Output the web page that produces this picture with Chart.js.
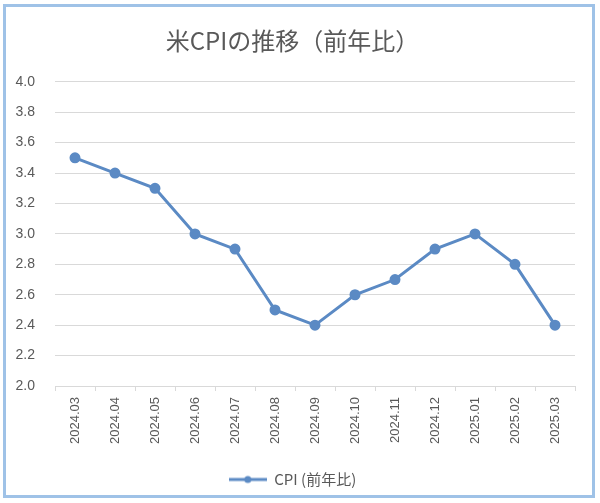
<!DOCTYPE html>
<html><head><meta charset="utf-8">
<script src="https://cdn.jsdelivr.net/npm/chart.js@4/dist/chart.umd.min.js"></script>
<style>html,body{margin:0;padding:0;background:#fff;}#wrap{width:600px;height:503px;position:relative;}</style>
</head><body><div id="wrap"><canvas id="c" width="600" height="503"></canvas></div>
<script>
const categories = ["2024.03","2024.04","2024.05","2024.06","2024.07","2024.08","2024.09","2024.10","2024.11","2024.12","2025.01","2025.02","2025.03"];
const cpiValues = [3.5,3.4,3.3,3.0,2.9,2.5,2.4,2.6,2.7,2.9,3.0,2.8,2.4];
const seriesName = "CPI (前年比)";
const titleText = "米CPIの推移（前年比）";

const lineColor = "#5b8ac4";
const textColor = "#595959";
const gridColor = "#d9d9d9";

// legend marker: line with a dot
const mk = document.createElement('canvas');
mk.width = 38; mk.height = 10;
(function(){const g=mk.getContext('2d');g.strokeStyle=lineColor;g.lineWidth=3;g.beginPath();g.moveTo(0,5);g.lineTo(38,5);g.stroke();g.fillStyle=lineColor;g.beginPath();g.arc(19,5,3.5,0,Math.PI*2);g.fill();})();

const borderPlugin = {
  id:'frame',
  beforeDraw(chart){
    const ctx=chart.ctx;ctx.save();
    ctx.fillStyle='#fff';ctx.fillRect(0,0,chart.width,chart.height);
    ctx.strokeStyle='#9fc2e7';ctx.lineWidth=3;
    ctx.strokeRect(4.5,5.5,589,491);
    ctx.restore();
  }
};

new Chart(document.getElementById('c'),{
  type:'line',
  data:{labels:categories,datasets:[{label:seriesName,data:cpiValues,borderColor:lineColor,backgroundColor:lineColor,borderWidth:3,pointRadius:4,pointHoverRadius:4,pointBackgroundColor:lineColor,pointBorderColor:lineColor,tension:0}]},
  options:{
    responsive:false,animation:false,
    layout:{padding:{left:10,right:25,top:26,bottom:6}},
    plugins:{
      title:{display:true,text:titleText,color:textColor,font:{family:'"Noto Sans CJK JP"',size:24,weight:'normal'},padding:{top:0,bottom:27}},
      legend:{position:'bottom',labels:{color:textColor,font:{family:'"Noto Sans CJK JP"',size:15},usePointStyle:true,pointStyleWidth:38,boxHeight:10,
        generateLabels(chart){return [{text:seriesName,pointStyle:mk,fontColor:textColor,datasetIndex:0,hidden:false,lineWidth:0,strokeStyle:lineColor,fillStyle:lineColor}];}
      },padding:8},
      tooltip:{enabled:false}
    },
    scales:{
      x:{offset:true,
        grid:{display:true,drawOnChartArea:false,offset:true,tickLength:5,color:gridColor},
        border:{color:gridColor},
        ticks:{color:textColor,font:{family:'"Liberation Sans"',size:13},minRotation:90,maxRotation:90,autoSkip:false,padding:6},
        afterFit(s){s.height=76;}},
      y:{min:2.0,max:4.0,
        grid:{color:gridColor,drawTicks:false},
        border:{display:false},
        ticks:{stepSize:0.2,color:textColor,font:{family:'"Liberation Sans"',size:14},padding:20,callback:v=>Number(v).toFixed(1)},
        afterFit(s){s.width=45;}}
    }
  },
  plugins:[borderPlugin]
});
</script></body></html>
